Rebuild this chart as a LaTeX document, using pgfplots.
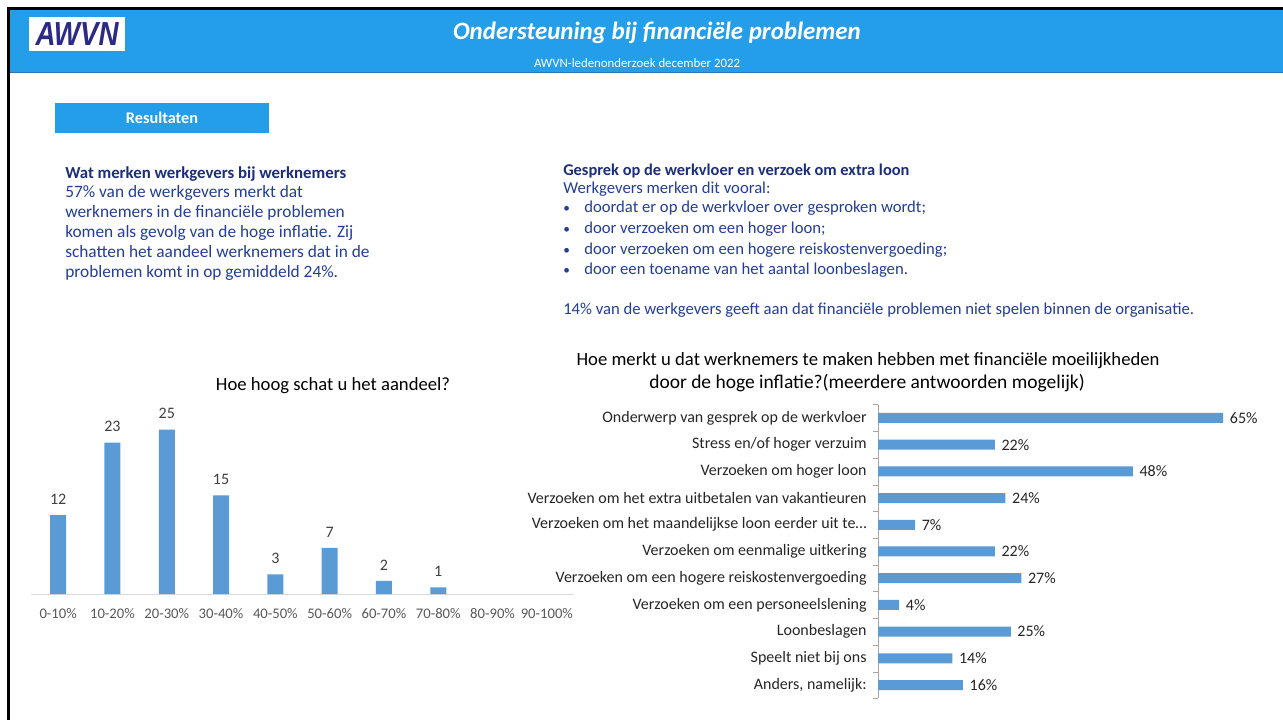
\documentclass[border=0pt]{standalone}
\usepackage{pgfplots}
\pgfplotsset{compat=1.18}
\usepackage{fontspec}
\setmainfont{Carlito}
\newfontfamily\logofont{Liberation Sans}
\definecolor{hdrblue}{RGB}{37,158,233}
\definecolor{hdrline}{RGB}{46,117,182}
\definecolor{barblue}{RGB}{91,155,213}
\definecolor{txtblue}{RGB}{36,62,152}
\definecolor{hdblue}{RGB}{28,46,122}
\definecolor{logoblue}{RGB}{43,42,132}
\definecolor{tickgray}{RGB}{89,89,89}
\definecolor{lblgray}{RGB}{64,64,64}
\definecolor{axgray}{RGB}{217,217,217}
\definecolor{ax2gray}{RGB}{166,166,166}

\begin{document}
\begin{tikzpicture}[x=0.75pt,y=-0.75pt]
\path[use as bounding box] (0,0) rectangle (1283,720);
\fill[white] (0,0) rectangle (1283,720);
% header band
\fill[hdrblue] (9,10) rectangle (1283,73);
\draw[hdrline,line width=0.75pt] (9,73) -- (1283,73);
\draw[black,line width=2.25pt] (7,9) -- (1283,9);
\draw[black,line width=2.25pt] (8,8) -- (8,720);
\fill[white] (29,17) rectangle (125,51);
\node[text=logoblue,font=\logofont\bfseries\itshape\fontsize{25}{25}\selectfont,xscale=0.83] at (77,34) {AWVN};
\node[anchor=base,text=white,font=\bfseries\itshape\fontsize{18.7}{20}\selectfont] at (657,40) {Ondersteuning bij financiële problemen};
\node[anchor=base,text=white,font=\fontsize{9.6}{10}\selectfont] at (637,68) {AWVN-ledenonderzoek december 2022};

% results tag
\fill[hdrblue] (55,103) rectangle (269,133);
\node[anchor=base,text=white,font=\bfseries\fontsize{12.2}{13}\selectfont] at (162,124) {Resultaten};

% left text
\begin{scope}[every node/.style={anchor=base west,inner sep=0pt,text=txtblue,font=\fontsize{13}{15}\selectfont}]
\node[text=hdblue,font=\bfseries\fontsize{12.6}{15}\selectfont] at (65,179) {Wat merken werkgevers bij werknemers};
\node at (65,198) {57\% van de werkgevers merkt dat};
\node at (65,218) {werknemers in de financiële problemen};
\node at (65,238) {komen als gevolg van de hoge inflatie. Zij};
\node at (65,258) {schatten het aandeel werknemers dat in de};
\node at (65,278) {problemen komt in op gemiddeld 24\%.};
\end{scope}
% right text
\begin{scope}[every node/.style={anchor=base west,inner sep=0pt,text=txtblue,font=\fontsize{12.5}{15}\selectfont}]
\node[text=hdblue,font=\bfseries\fontsize{12.3}{15}\selectfont] at (563,176) {Gesprek op de werkvloer en verzoek om extra loon};
\node at (563,194) {Werkgevers merken dit vooral:};
\node[font=\fontsize{10}{12}\selectfont] at (563,213) {•}; \node at (584,213) {doordat er op de werkvloer over gesproken wordt;};
\node[font=\fontsize{10}{12}\selectfont] at (563,234) {•}; \node at (584,234) {door verzoeken om een hoger loon;};
\node[font=\fontsize{10}{12}\selectfont] at (563,255) {•}; \node at (584,255) {door verzoeken om een hogere reiskostenvergoeding;};
\node[font=\fontsize{10}{12}\selectfont] at (563,275) {•}; \node at (584,275) {door een toename van het aantal loonbeslagen.};
\node at (563,315) {14\% van de werkgevers geeft aan dat financiële problemen niet spelen binnen de organisatie.};
\end{scope}

% chart titles
\node[anchor=base,text=black,font=\fontsize{14}{16}\selectfont] at (333,391) {Hoe hoog schat u het aandeel?};
\node[anchor=base,text=black,font=\fontsize{14}{16}\selectfont] at (868,366) {Hoe merkt u dat werknemers te maken hebben met financiële moeilijkheden};
\node[anchor=base,text=black,font=\fontsize{14.6}{16}\selectfont] at (867,389) {door de hoge inflatie?(meerdere antwoorden mogelijk)};

\coordinate (LA) at (31,594);
\coordinate (RA) at (878,698.35);

% left chart
\begin{axis}[
  at={(LA)}, anchor=south west, scale only axis,
  width=407.25pt, height=148pt,
  xmin=-0.5, xmax=9.5, ymin=0, ymax=30,
  ybar, bar width=12pt,
  axis x line*=bottom, axis y line=none,
  x axis line style={draw=axgray,-},
  xtick={0,...,9},
  xticklabels={0-10\%,10-20\%,20-30\%,30-40\%,40-50\%,50-60\%,60-70\%,70-80\%,80-90\%,90-100\%},
  major tick length=0pt, ytick=\empty,
  xticklabel style={font=\fontsize{11}{13}\selectfont,text=tickgray,yshift=-7pt},
  /pgf/number format/assume math mode=true,
  nodes near coords,
  every node near coord/.append style={font=\fontsize{12}{14}\selectfont,text=lblgray,yshift=4.5pt},
  clip=false,
]
\addplot[fill=barblue,draw=none] coordinates {(0,12)(1,23)(2,25)(3,15)(4,3)(5,7)(6,2)(7,1)};
\end{axis}

% right chart
\begin{axis}[
  at={(RA)}, anchor=south west, scale only axis,
  width=278.8pt, height=220.3pt,
  xmin=0, xmax=70, ymin=-0.5, ymax=10.5,
  xbar, bar width=7.5pt,
  axis y line*=left, axis x line=none,
  y axis line style={draw=ax2gray,-},
  ytick={0,...,10},
  yticklabels={{Anders, namelijk:},Speelt niet bij ons,Loonbeslagen,Verzoeken om een personeelslening,Verzoeken om een hogere reiskostenvergoeding,Verzoeken om eenmalige uitkering,Verzoeken om het maandelijkse loon eerder uit te…,Verzoeken om het extra uitbetalen van vakantieuren,Verzoeken om hoger loon,Stress en/of hoger verzuim,Onderwerp van gesprek op de werkvloer},
  major tick length=0pt,
  minor ytick={-0.5,0.5,...,10.5},
  minor tick length=3.75pt, tick align=outside,
  tick style={draw=ax2gray},
  yticklabel style={font=\fontsize{12}{14}\selectfont,text=black!85,xshift=-5pt},
  xtick=\empty,
  /pgf/number format/assume math mode=true,
  point meta=x,
  nodes near coords={\pgfmathprintnumber{\pgfplotspointmeta}\%},
  every node near coord/.append style={font=\fontsize{12}{14}\selectfont,text=black!85,xshift=1.5pt},
  clip=false,
]
\addplot[fill=barblue,draw=none] coordinates {(16,0)(14,1)(25,2)(4,3)(27,4)(22,5)(7,6)(24,7)(48,8)(22,9)(65,10)};
\end{axis}
\end{tikzpicture}
\end{document}
